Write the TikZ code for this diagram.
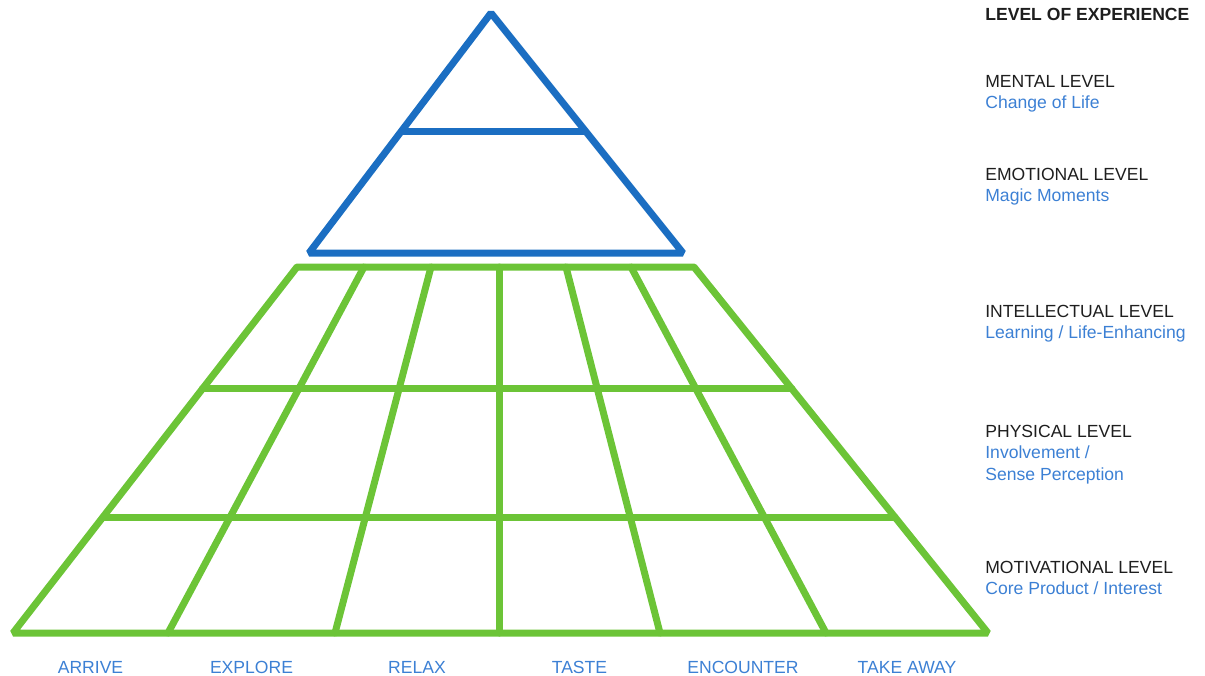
\documentclass[tikz,border=0pt]{standalone}
\usepackage{fontspec}
\setmainfont{Liberation Sans}
\usetikzlibrary{calc}
\definecolor{pyrblue}{HTML}{1B6EC2}
\definecolor{pyrgreen}{HTML}{6CC437}
\definecolor{labblue}{HTML}{3C80D4}
\definecolor{labblack}{HTML}{1E1E1E}

\begin{document}
\begin{tikzpicture}[x=0.02cm,y=-0.02cm,line cap=round,line join=bevel,
  every node/.style={inner sep=0pt,font=\fontsize{10}{12}\selectfont},
  level/.style={anchor=base west,text=labblack},
  detail/.style={anchor=base west,text=labblue},
  stage/.style={anchor=base,text=labblue}]
  \useasboundingbox (0,0) rectangle (1205,676);
  % triangle
  \coordinate (apex) at (491,13);
  \coordinate (tl) at (309,253);
  \coordinate (tr) at (683,253);
  \draw[pyrblue,line width=0.14cm] (apex) -- (tr) -- (tl) -- cycle;
  \draw[pyrblue,line width=0.14cm] ($(apex)!0.4917!(tl)$) -- ($(apex)!0.4917!(tr)$);
  % grid
  \foreach \xt/\xb [count=\i] in {297/13,364/168,431/335,499/499,566/660,631/826,694/988} {
    \coordinate (t\i) at (\xt,267);
    \coordinate (b\i) at (\xb,633);
  }
  \draw[pyrgreen,line width=0.14cm] (t1) -- (t7) -- (b7) -- (b1) -- cycle;
  \foreach \f in {0.3333,0.6831} {
    \draw[pyrgreen,line width=0.14cm] ($(t1)!\f!(b1)$) -- ($(t7)!\f!(b7)$);
  }
  \foreach \i in {2,...,6} {
    \draw[pyrgreen,line width=0.14cm] (t\i) -- (b\i);
  }
  % stages
  \foreach \lab [count=\i] in {ARRIVE,EXPLORE,RELAX,TASTE,ENCOUNTER,TAKE AWAY} {
    \pgfmathtruncatemacro{\j}{\i+1}
    \node[stage] (s\i) at ($($(b\i)!0.5!(b\j)$)+(0,40)$) {\lab};
  }
  % levels
  \node[level,font=\fontsize{10}{12}\selectfont\bfseries] (title) at (985,20) {LEVEL OF EXPERIENCE};
  \node[level] (mental) at (985,87) {MENTAL LEVEL};
  \node[detail] (mentald) at (985,108) {Change of Life};
  \node[level] (emotional) at (985,180) {EMOTIONAL LEVEL};
  \node[detail] (emotionald) at (985,201) {Magic Moments};
  \node[level] (intellectual) at (985,317) {INTELLECTUAL LEVEL};
  \node[detail] (intellectuald) at (985,338) {Learning / Life-Enhancing};
  \node[level] (physical) at (985,437) {PHYSICAL LEVEL};
  \node[detail] (physicald) at (985,458) {Involvement /};
  \node[detail] (physicale) at (985,480) {Sense Perception};
  \node[level] (motivational) at (985,573) {MOTIVATIONAL LEVEL};
  \node[detail] (motivationald) at (985,594) {Core Product / Interest};
\end{tikzpicture}
\end{document}
